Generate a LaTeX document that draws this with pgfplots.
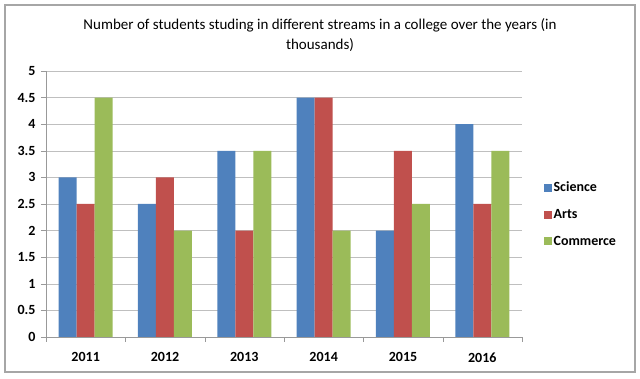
\documentclass[border=0pt]{standalone}
\usepackage{pgfplots}
\pgfplotsset{compat=1.18}
\usepackage{fontspec}
\setmainfont{Carlito}
\definecolor{sci}{HTML}{4F81BD}
\definecolor{art}{HTML}{C0504D}
\definecolor{com}{HTML}{9BBB59}
\begin{document}
\begin{tikzpicture}[x=1pt,y=1pt]
\useasboundingbox (0,0) rectangle (640,379);
\draw[gray!70,line width=1.2pt] (5,7) rectangle (635,374);
\node[font=\fontsize{15}{20}\selectfont,align=center] at (320,343.5) {Number of students studing in different streams in a college over the years (in\\thousands)};
\begin{axis}[
  at={(46pt,42pt)}, anchor=south west,
  scale only axis, width=476pt, height=266pt,
  ybar=0pt, bar width=18pt,
  xmin=-0.5, xmax=5.5, ymin=0, ymax=5,
  xtick={0,...,5}, xticklabels={2011,2012,2013,2014,2015,2016},
  major x tick style={draw=none},
  minor xtick={-0.5,0.5,...,5.5},
  ytick={0,0.5,...,5},
  yticklabel={\textbf{\pgfmathprintnumber[assume math mode=true]{\tick}}},
  tick align=outside, major tick length=5pt, minor tick length=5pt,
  tick style={gray!80},
  axis x line*=bottom, axis y line*=left,
  axis line style={gray!80,-},
  ymajorgrids, grid style={gray!50},
  tick label style={font=\fontsize{14}{16}\selectfont\bfseries},
  yticklabel style={xshift=-2pt},
  /pgf/number format/assume math mode=true,
  xticklabel style={yshift=-7pt},
  legend style={at={(1.045,0.461)}, anchor=west, draw=none, fill=none,
    font=\fontsize{14}{16}\selectfont\bfseries, row sep=12pt, inner sep=0pt},
  legend cell align=left,
  legend image code/.code={\fill[#1] (0pt,-4pt) rectangle (8pt,4pt);},
]
\addplot[fill=sci,draw=none] coordinates {(0,3) (1,2.5) (2,3.5) (3,4.5) (4,2) (5,4)};
\addplot[fill=art,draw=none] coordinates {(0,2.5) (1,3) (2,2) (3,4.5) (4,3.5) (5,2.5)};
\addplot[fill=com,draw=none] coordinates {(0,4.5) (1,2) (2,3.5) (3,2) (4,2.5) (5,3.5)};
\legend{Science,Arts,Commerce}
\end{axis}
\end{tikzpicture}
\end{document}
